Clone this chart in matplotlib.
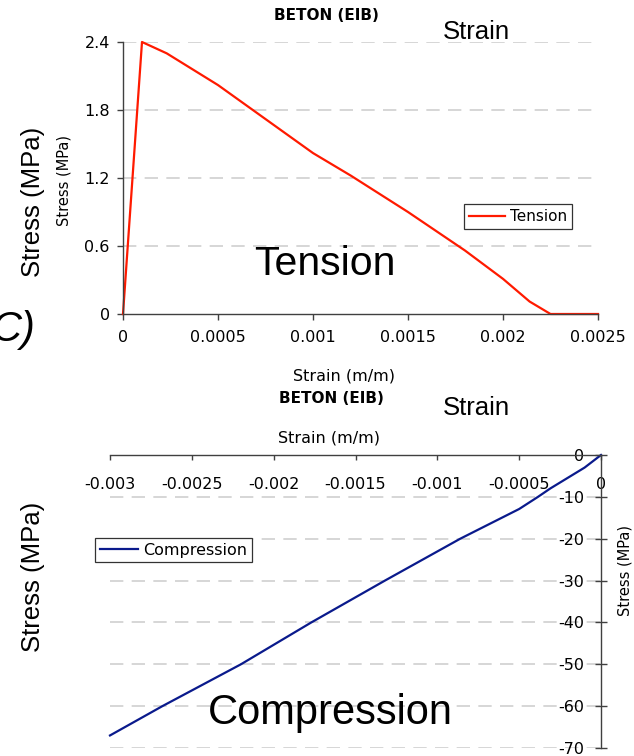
import numpy as np
import matplotlib.pyplot as plt

plt.rcParams['axes.unicode_minus'] = False

# tension branch (strain m/m, stress MPa)
t_strain = [0, 0.0001, 0.00023, 0.0005, 0.0008, 0.001, 0.0012, 0.0015, 0.0018, 0.002, 0.00214, 0.00225, 0.0025]
t_stress = [0, 2.4, 2.30, 2.02, 1.66, 1.42, 1.22, 0.90, 0.56, 0.31, 0.11, 0.0, 0.0]

# compression branch
c_strain = [0, -0.0001, -0.00031, -0.000385, -0.0005, -0.00086, -0.00132, -0.00177, -0.0022, -0.00268, -0.003]
c_stress = [0, -3.0, -8.0, -10.0, -12.9, -20.0, -30.0, -40.0, -50.0, -60.0, -67.0]

t_xticks = [0, 0.0005, 0.001, 0.0015, 0.002, 0.0025]
t_xlabels = ['0', '0.0005', '0.001', '0.0015', '0.002', '0.0025']
t_yticks = [0, 0.6, 1.2, 1.8, 2.4]
c_xticks = [-0.003, -0.0025, -0.002, -0.0015, -0.001, -0.0005, 0]
c_xlabels = ['-0.003', '-0.0025', '-0.002', '-0.0015', '-0.001', '-0.0005', '0']
c_yticks = [-70, -60, -50, -40, -30, -20, -10, 0]

W, H = 634, 756
fig = plt.figure(figsize=(W / 100, H / 100), dpi=100)


def fx(x):
    return x / W


def fy(y):
    return 1 - y / H


axis_col = '#404040'
grid_col = '#cfcfcf'
tick_font = 11.5
small_font = 11.5

# ---- top chart: tension
ax1 = fig.add_axes([fx(123), fy(314), (598 - 123) / W, (314 - 42) / H])
ax1.plot(t_strain, t_stress, color='#ff1a00', lw=1.6, label='Tension', clip_on=False)
ax1.set_xlim(0, 0.0025)
ax1.set_ylim(0, 2.4)
ax1.set_xticks(t_xticks)
ax1.set_xticklabels(t_xlabels)
ax1.set_yticks(t_yticks)
ax1.set_yticklabels(['0', '0.6', '1.2', '1.8', '2.4'])
for s in ['top', 'right']:
    ax1.spines[s].set_visible(False)
for s in ['left', 'bottom']:
    ax1.spines[s].set_color(axis_col)
    ax1.spines[s].set_linewidth(1.0)
ax1.tick_params(axis='both', colors=axis_col, labelcolor='black', labelsize=tick_font,
                length=4.5, width=1.0, direction='out')
ax1.tick_params(axis='x', pad=7)
ax1.tick_params(axis='y', pad=5)
for v in t_yticks[1:]:
    ax1.axhline(v, color=grid_col, lw=1.2, dashes=(8, 5), zorder=0)
ax1.legend(loc='center', bbox_to_anchor=(fx(518), fy(216.5)), bbox_transform=fig.transFigure,
           fancybox=False, edgecolor='#333333', framealpha=1, fontsize=11,
           handlelength=2.4, handletextpad=0.3, borderpad=0.3, borderaxespad=0)\
    .get_frame().set_linewidth(0.9)

# ---- bottom chart: compression
ax2 = fig.add_axes([fx(110), fy(748), (601 - 110) / W, (748 - 455) / H])
ax2.plot(c_strain, c_stress, color='#0a1a8c', lw=1.6, label='Compression', clip_on=False)
ax2.set_xlim(-0.003, 0)
ax2.set_ylim(-70, 0)
ax2.spines['left'].set_position(('data', 0))
ax2.spines['bottom'].set_position(('data', 0))
for s in ['top', 'right']:
    ax2.spines[s].set_visible(False)
for s in ['left', 'bottom']:
    ax2.spines[s].set_color(axis_col)
    ax2.spines[s].set_linewidth(1.0)
ax2.set_xticks(c_xticks)
ax2.set_xticklabels(c_xlabels)
ax2.set_yticks(c_yticks)
ax2.set_yticklabels([str(v) for v in c_yticks])
ax2.tick_params(axis='both', colors=axis_col, labelcolor='black', labelsize=tick_font, width=1.0)
ax2.tick_params(axis='x', direction='out', length=3.5, pad=12)
ax2.tick_params(axis='y', direction='inout', length=8, pad=8)
for v in c_yticks[:-1]:
    ax2.axhline(v, color=grid_col, lw=1.2, dashes=(8, 5), zorder=0)
ax2.legend(loc='center', bbox_to_anchor=(fx(173.5), fy(550)), bbox_transform=fig.transFigure,
           fancybox=False, edgecolor='#333333', framealpha=1, fontsize=11.5,
           handlelength=2.4, handletextpad=0.3, borderpad=0.3, borderaxespad=0)\
    .get_frame().set_linewidth(0.9)

# original chart titles / labels
fig.text(fx(326), fy(16), 'BETON (EIB)', fontsize=11, fontweight='bold', ha='center', va='center')
fig.text(fx(344), fy(376), 'Strain (m/m)', fontsize=small_font, ha='center', va='center')
fig.text(fx(331), fy(398), 'BETON (EIB)', fontsize=11, fontweight='bold', ha='center', va='center')
fig.text(fx(329), fy(438), 'Strain (m/m)', fontsize=small_font, ha='center', va='center')
fig.text(fx(64), fy(181), 'Stress (MPa)', fontsize=10.5, rotation=90, ha='center', va='center')
fig.text(fx(617), fy(570), 'Stress (MPa)', fontsize=10.5, rotation=90, ha='left', va='center')

# overlay annotations
big = dict(family='Liberation Sans', color='black')
fig.text(fx(33), fy(202), 'Stress (MPa)', fontsize=18.5, rotation=90, ha='center', va='center', **big)
fig.text(fx(33), fy(577), 'Stress (MPa)', fontsize=18.5, rotation=90, ha='center', va='center', **big)
fig.text(fx(476), fy(32), 'Strain', fontsize=18.5, ha='center', va='center', **big)
fig.text(fx(476), fy(408), 'Strain', fontsize=18.5, ha='center', va='center', **big)
fig.text(fx(325), fy(264), 'Tension', fontsize=29.5, ha='center', va='center', **big)
fig.text(fx(330), fy(713), 'Compression', fontsize=30, ha='center', va='center', **big)
fig.text(fx(36), fy(330), 'C)', fontsize=30, ha='right', va='center', style='italic', **big)

fig.savefig('out.png', dpi=100)
